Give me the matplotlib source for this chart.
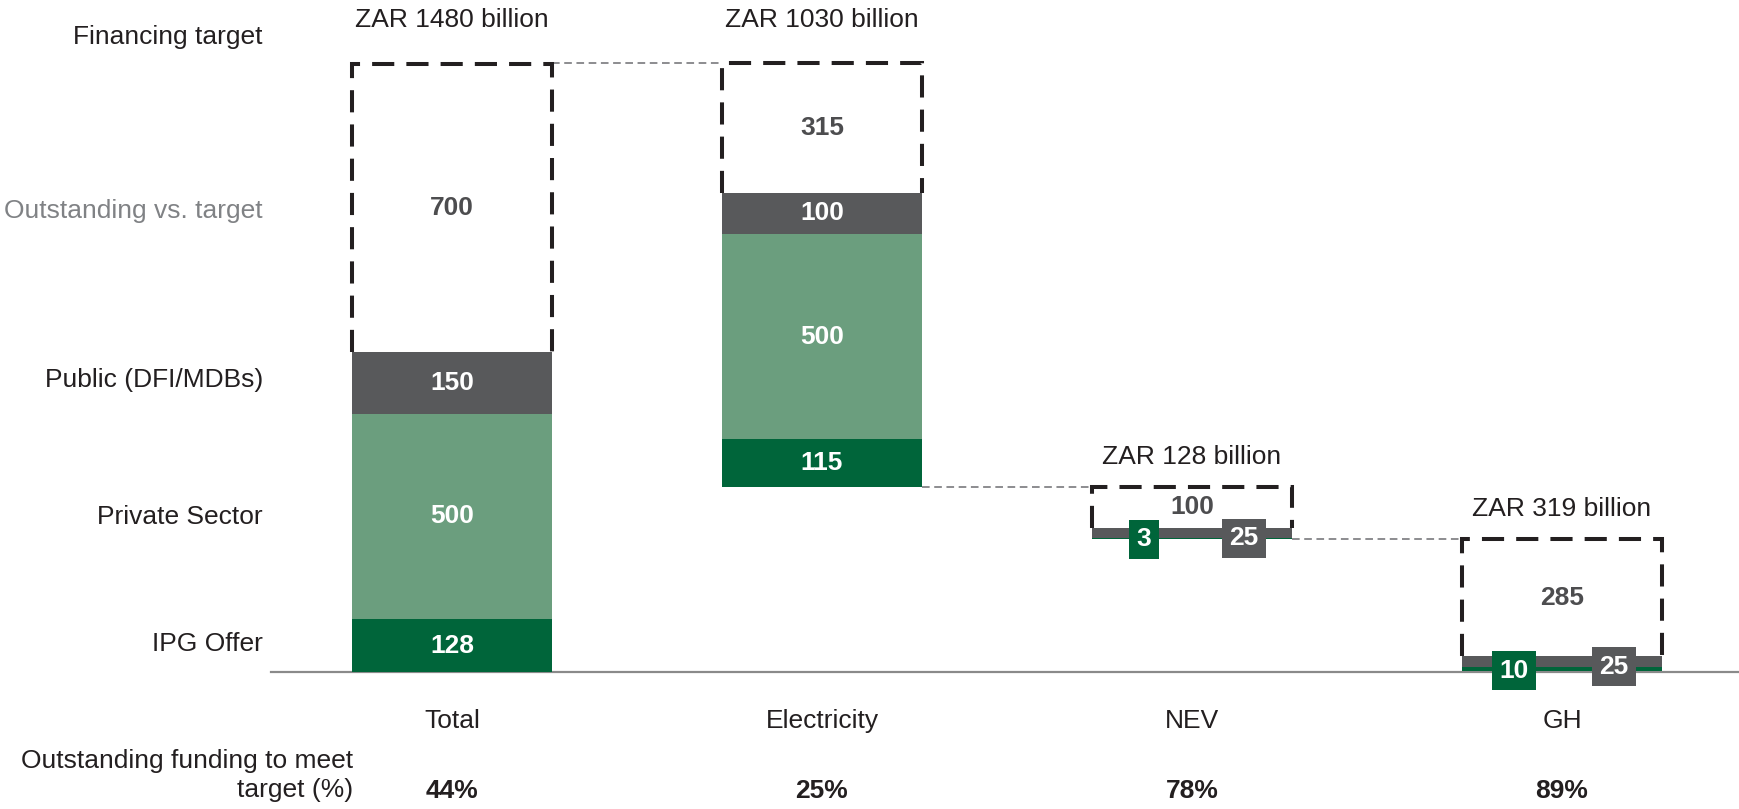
import matplotlib
matplotlib.use("Agg")
import matplotlib.pyplot as plt

plt.rcParams['font.family'] = ['Liberation Sans', 'DejaVu Sans']

# Данные
categories = ["Total", "Electricity", "NEV", "GH"]
targets = [1480, 1030, 128, 319]
ipg_offer = [128, 115, 3, 10]
private_sector = [500, 500, 0, 0]
public_dfi = [150, 100, 25, 25]
outstanding = [700, 315, 100, 285]
outstanding_pct = ["44%", "25%", "78%", "89%"]
row_labels = ["Financing target", "Outstanding vs. target", "Public (DFI/MDBs)",
              "Private Sector", "IPG Offer"]

DARK_GREEN = "#00653a"
LIGHT_GREEN = "#6b9e7e"
GREY = "#58595b"
TEXT = "#231f20"

fig = plt.figure(figsize=(17.39, 8.09), dpi=100)
ax = fig.add_axes([0, 0, 1, 1])
ax.set_xlim(-452 / 370, (1739 - 452) / 370)
ax.set_ylim(-333, 1633)
ax.axis("off")

w = 0.54

# waterfall: каждая следующая категория висит на уровне предыдущей
bottoms = []
tops = []
for i, t in enumerate(targets):
    if i == 0:
        top = t
        bottom = 0
    elif i == 1:
        top = targets[0]
        bottom = top - t
    else:
        top = bottoms[i - 1]
        bottom = top - t
    tops.append(top)
    bottoms.append(bottom)

for i, cat in enumerate(categories):
    b = bottoms[i]
    segs = [(ipg_offer[i], DARK_GREEN), (private_sector[i], LIGHT_GREEN), (public_dfi[i], GREY)]
    for j, (val, col) in enumerate(segs):
        if val == 0:
            continue
        ax.bar(i, val, width=w, bottom=b, color=col, linewidth=0)
        if val >= 60:
            ax.text(i, b + val / 2, str(val), ha="center", va="center", color="white",
                    fontsize=19, fontweight="bold")
        else:
            # маленькие значения - подпись в отдельной плашке
            dx = -0.13 if j == 0 else 0.14
            ax.text(i + dx, b, str(val), ha="center", va="center", color="white",
                    fontsize=19, fontweight="bold", zorder=5,
                    bbox=dict(boxstyle="square,pad=0.28", fc=col, ec="none"))
        b += val
    # пунктирная рамка для недостающей суммы
    y0 = b
    y1 = b + outstanding[i]
    ax.plot([i - w / 2, i - w / 2, i + w / 2, i + w / 2], [y0, y1, y1, y0],
            color=TEXT, lw=2.9, linestyle=(0, (5.5, 3)), solid_joinstyle="miter",
            dash_joinstyle="miter", zorder=4)
    ax.text(i, (y0 + y1) / 2, str(outstanding[i]), ha="center", va="center",
            color="#4d4d4f", fontsize=19, fontweight="bold")
    pad = 104 if i < 2 else 72
    lab_y = tops[0] + pad if i < 2 else y1 + pad
    ax.text(i, lab_y, f"ZAR {targets[i]} billion", ha="center", va="center",
            color=TEXT, fontsize=19)
    ax.text(i, -119, cat, ha="center", va="center", color=TEXT, fontsize=19)
    ax.text(i, -289, outstanding_pct[i], ha="center", va="center", color=TEXT,
            fontsize=19, fontweight="bold")

# соединительные линии
levels = [tops[0], bottoms[1], bottoms[2]]
for i, lvl in enumerate(levels):
    ax.plot([i + w / 2, i + 1 - w / 2], [lvl, lvl], color="#6d6e71", lw=1.1,
            linestyle=(0, (5, 3)), zorder=1)

# базовая линия
ax.plot([-0.49, 3.48], [0, 0], color="#8a8a8a", lw=1.6, zorder=0)

row_y = [1543, 1120, 710, 377, 68]
for lab, yy in zip(row_labels, row_y):
    col = "#808285" if lab.startswith("Outstanding") else TEXT
    ax.text(-0.511, yy, lab, ha="right", va="center", color=col, fontsize=19)

ax.text(-0.268, -252, "Outstanding funding to meet\ntarget (%)", ha="right", va="center",
        color=TEXT, fontsize=19, linespacing=1.25)

fig.savefig("out.png", dpi=100)
plt.close(fig)
